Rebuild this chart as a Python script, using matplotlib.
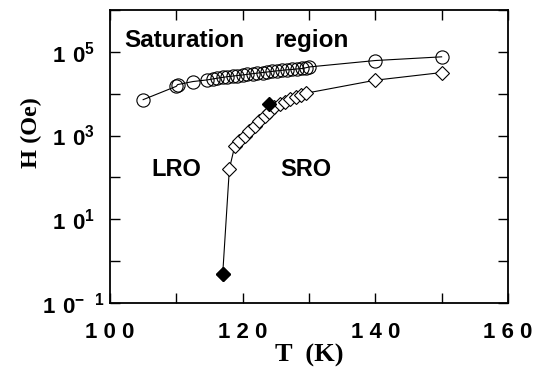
import matplotlib
matplotlib.use('Agg')
import matplotlib.pyplot as plt

# saturation field vs temperature
t_sat = [105, 110, 110.2, 112.5, 114.7, 115.5, 116.2, 117.0, 117.7, 118.5,
         119.2, 120.0, 120.7, 121.5, 122.2, 123.0, 123.7, 124.5, 125.2, 126.0,
         126.7, 127.5, 128.2, 129.0, 129.5, 130.0, 140, 150]
h_sat = [7200, 15000, 16500, 19500, 21400, 22500, 23500, 24500, 25500, 26300,
         27200, 28000, 29000, 30000, 31000, 32000, 33000, 34200, 35200, 36300,
         37200, 38000, 39000, 40000, 41500, 43500, 62000, 76000]

# LRO / SRO boundary
t_bound = [117.0, 118.0, 118.8, 119.5, 120.3, 121.0, 121.8, 122.5, 123.3, 124.0,
           124.8, 125.6, 126.4, 127.2, 128.0, 128.8, 129.6, 140, 150]
h_bound = [0.5, 160, 550, 730, 950, 1260, 1660, 2200, 2900, 3700,
           4700, 5800, 6500, 7600, 8400, 9300, 10300, 21000, 32000]

# filled points
t_fill = [117.0, 124.0]
h_fill = [0.5, 5800]

x_ticks = [100, 110, 120, 130, 140, 150, 160]
x_labels = ['1 0 0', '', '1 2 0', '', '1 4 0', '', '1 6 0']
y_ticks = [1e-1, 1e0, 1e1, 1e2, 1e3, 1e4, 1e5, 1e6]
y_labels = [r'$\mathrm{1\ 0^{-\ \ 1}}$', '', r'$\mathrm{1\ 0^{1}}$', '',
            r'$\mathrm{1\ 0^{3}}$', '', r'$\mathrm{1\ 0^{5}}$', '']

plt.rcParams['font.family'] = ['Liberation Sans', 'DejaVu Sans']
plt.rcParams['font.weight'] = 'bold'
plt.rcParams['mathtext.fontset'] = 'custom'
plt.rcParams['mathtext.rm'] = 'Liberation Sans:bold'
plt.rcParams['mathtext.bf'] = 'Liberation Sans:bold'

fig = plt.figure(figsize=(5.45, 3.68), dpi=100)
ax = fig.add_axes([0.2018, 0.177, 0.7302, 0.7958])

ax.plot(t_sat, h_sat, '-', color='black', lw=0.8, marker='o', ms=9.5,
        mfc='none', mec='black', mew=0.8)
ax.plot(t_bound, h_bound, '-', color='black', lw=0.8, marker='D', ms=7,
        mfc='white', mec='black', mew=0.8)
ax.plot(t_fill, h_fill, 'D', color='black', ms=7)

ax.set_yscale('log')
ax.set_xlim(100, 160)
ax.set_ylim(1e-1, 1e6)
ax.minorticks_off()

ax.set_xticks(x_ticks)
ax.set_xticklabels(x_labels, fontsize=16, fontweight='bold')
ax.set_yticks(y_ticks)
ax.set_yticklabels(y_labels, fontsize=16, ha='center')

ax.tick_params(direction='in', length=7, width=1, top=True, right=True)
ax.tick_params(axis='y', pad=26)
ax.tick_params(axis='x', pad=14)
for sp in ax.spines.values():
    sp.set_linewidth(1.3)

ax.set_xlabel('T  (K)', family='Liberation Serif', fontweight='bold', fontsize=19)
ax.xaxis.set_label_coords(0.5, -0.14)
ax.set_ylabel('H (Oe)', family='Liberation Serif', fontweight='bold', fontsize=17.5)
ax.yaxis.set_label_coords(-0.17, 0.58)

ax.text(102.2, 1.9e5, 'Saturation', fontsize=17.5, fontweight='bold', va='center')
ax.text(124.8, 1.9e5, 'region', fontsize=17.5, fontweight='bold', va='center')
ax.text(110, 150, 'LRO', fontsize=17, fontweight='bold', ha='center', va='center')
ax.text(129.6, 150, 'SRO', fontsize=17, fontweight='bold', ha='center', va='center')

fig.savefig('out.png', dpi=100)
